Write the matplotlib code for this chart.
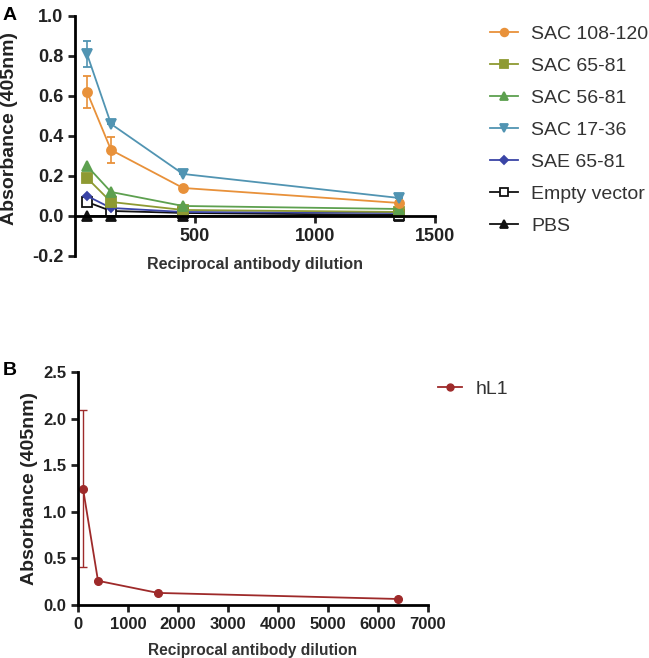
import matplotlib
matplotlib.use('Agg')
from matplotlib import pyplot as plt
from matplotlib.lines import Line2D

plt.rcParams['font.family'] = ['Liberation Sans', 'DejaVu Sans']

# panel A data
dil_a = [50, 150, 450, 1350]
names_a = ['SAC 108-120', 'SAC 65-81', 'SAC 56-81', 'SAC 17-36', 'SAE 65-81', 'Empty vector', 'PBS']
sac108 = [0.62, 0.33, 0.14, 0.065]
sac108_err = [0.08, 0.065, 0.0, 0.0]
sac6581 = [0.19, 0.07, 0.03, 0.02]
sac5681 = [0.25, 0.12, 0.05, 0.035]
sac1736 = [0.81, 0.46, 0.21, 0.09]
sac1736_err = [0.065, 0.0, 0.0, 0.0]
sae6581 = [0.10, 0.04, 0.02, 0.015]
empty_vec = [0.07, 0.025, 0.015, 0.005]
pbs = [0.0, 0.0, 0.0, 0.0]

# panel B data
dil_b = [100, 400, 1600, 6400]
hl1 = [1.25, 0.26, 0.13, 0.065]
hl1_err = [0.84, 0.0, 0.0, 0.0]

fig = plt.figure(figsize=(6.49, 6.58), dpi=100)

def style_axes(ax, size):
    for s in ['top', 'right']:
        ax.spines[s].set_visible(False)
    for s in ['left', 'bottom']:
        ax.spines[s].set_linewidth(2)
    ax.tick_params(width=2, length=5, labelsize=size, colors='#222222')
    for lab in ax.get_xticklabels() + ax.get_yticklabels():
        lab.set_fontweight('bold')

# ---- A ----
axA = fig.add_axes([0.1156, 0.611, 0.5547, 0.3647])
series = [
    (sac108, sac108_err, '#E8913A', 'o', '#E8913A'),
    (sac6581, None, '#8E9A32', 's', '#8E9A32'),
    (sac5681, None, '#5DA04F', '^', '#5DA04F'),
    (sac1736, sac1736_err, '#5194B2', 'v', '#5194B2'),
    (sae6581, None, '#3A44A6', 'D', '#3A44A6'),
    (empty_vec, None, '#111111', 's', 'white'),
    (pbs, None, '#111111', '^', '#111111'),
]
order = [6, 5, 4, 1, 2, 0, 3]
handles = [None] * len(series)
for i in order:
    ys, err, col, mk, face = series[i]
    ms = 4.5 if mk == 'D' else 6.5
    axA.errorbar(dil_a, ys, yerr=err, color=col, marker=mk, markersize=ms,
                 markerfacecolor=face, markeredgecolor=col, markeredgewidth=1.3,
                 linewidth=1.3, capsize=3, elinewidth=1.2)
    handles[i] = Line2D([], [], color=col, marker=mk, markersize=ms * 0.85,
                        markerfacecolor=face, markeredgecolor=col, markeredgewidth=1.3,
                        linewidth=1.3)
axA.set_xlim(0, 1500)
axA.set_ylim(-0.2, 1.0)
axA.set_xticks([500, 1000, 1500])
axA.set_yticks([-0.2, 0.0, 0.2, 0.4, 0.6, 0.8, 1.0])
axA.set_yticklabels(['-0.2', '0.0', '0.2', '0.4', '0.6', '0.8', '1.0'])
axA.spines['bottom'].set_position(('data', 0))
style_axes(axA, 13)
axA.set_ylabel('Absorbance (405nm)', fontsize=14, fontweight='bold', color='#222222')
axA.yaxis.set_label_coords(-0.158, 0.53)
axA.set_xlabel('Reciprocal antibody dilution', fontsize=11.5, fontweight='bold', color='#333333')
axA.xaxis.set_label_coords(0.5, -0.005)
axA.legend(handles=handles, labels=names_a, loc='upper left', bbox_to_anchor=(1.105, 1.035),
           frameon=False, fontsize=14, handlelength=1.4, labelspacing=0.74,
           labelcolor='#333333', handletextpad=0.7)
fig.text(0.004, 0.99, 'A', fontsize=14, fontweight='bold', va='top')

# ---- B ----
axB = fig.add_axes([0.1202, 0.0805, 0.539, 0.354])
axB.errorbar(dil_b, hl1, yerr=hl1_err, color='#9E2A2A', marker='o', markersize=5.5,
             linewidth=1.3, capsize=3, elinewidth=1.0)
hB = Line2D([], [], color='#9E2A2A', marker='o', markersize=5, linewidth=1.3)
axB.set_xlim(0, 7000)
axB.set_ylim(0, 2.5)
axB.set_xticks(range(0, 7001, 1000))
axB.set_yticks([0.0, 0.5, 1.0, 1.5, 2.0, 2.5])
axB.set_yticklabels(['0.0', '0.5', '1.0', '1.5', '2.0', '2.5'])
style_axes(axB, 12)
axB.set_ylabel('Absorbance (405nm)', fontsize=14, fontweight='bold', color='#222222')
axB.set_xlabel('Reciprocal antibody dilution', fontsize=11.2, fontweight='bold', color='#333333')
axB.xaxis.set_label_coords(0.5, -0.163)
axB.legend(handles=[hB], labels=['hL1'], loc='upper left', bbox_to_anchor=(0.98, 1.04),
           frameon=False, fontsize=14, handlelength=1.2, labelcolor='#333333', handletextpad=0.7)
fig.text(0.004, 0.45, 'B', fontsize=14, fontweight='bold', va='top')

fig.savefig('out.png', dpi=100)
